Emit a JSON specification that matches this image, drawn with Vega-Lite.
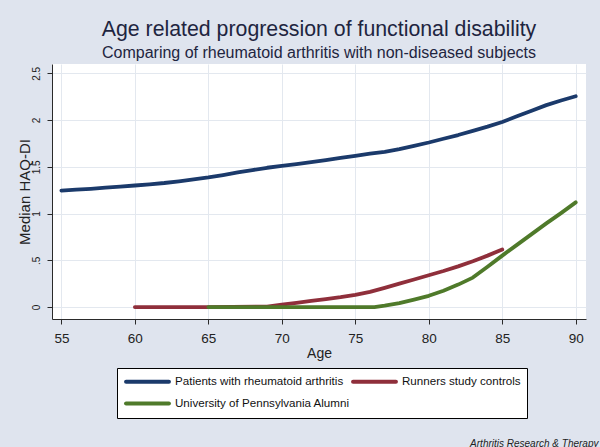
{
  "$schema": "https://vega.github.io/schema/vega-lite/v6.json",
  "width": 534,
  "height": 255,
  "autosize": {"type": "none"},
  "padding": {"left": 52, "top": 64, "right": 14, "bottom": 128},
  "background": "#dfe4ee",
  "title": {
    "text": "Age related progression of functional disability",
    "subtitle": "Comparing of rheumatoid arthritis with non-diseased subjects",
    "anchor": "middle",
    "frame": "group",
    "font": "Liberation Sans",
    "fontSize": 21.3,
    "fontWeight": "normal",
    "color": "#1e2540",
    "subtitleFont": "Liberation Sans",
    "subtitleFontSize": 16,
    "subtitleColor": "#1e2540",
    "subtitlePadding": 5,
    "offset": 3
  },
  "data": {
    "values": [
      {"group": "Patients with rheumatoid arthritis", "age": 55, "haq": 1.245},
      {"group": "Patients with rheumatoid arthritis", "age": 56, "haq": 1.255},
      {"group": "Patients with rheumatoid arthritis", "age": 57, "haq": 1.265},
      {"group": "Patients with rheumatoid arthritis", "age": 58, "haq": 1.277},
      {"group": "Patients with rheumatoid arthritis", "age": 59, "haq": 1.288},
      {"group": "Patients with rheumatoid arthritis", "age": 60, "haq": 1.3},
      {"group": "Patients with rheumatoid arthritis", "age": 61, "haq": 1.313},
      {"group": "Patients with rheumatoid arthritis", "age": 62, "haq": 1.327},
      {"group": "Patients with rheumatoid arthritis", "age": 63, "haq": 1.345},
      {"group": "Patients with rheumatoid arthritis", "age": 64, "haq": 1.365},
      {"group": "Patients with rheumatoid arthritis", "age": 65, "haq": 1.386},
      {"group": "Patients with rheumatoid arthritis", "age": 66, "haq": 1.412},
      {"group": "Patients with rheumatoid arthritis", "age": 67, "haq": 1.44},
      {"group": "Patients with rheumatoid arthritis", "age": 68, "haq": 1.465},
      {"group": "Patients with rheumatoid arthritis", "age": 69, "haq": 1.49},
      {"group": "Patients with rheumatoid arthritis", "age": 70, "haq": 1.51},
      {"group": "Patients with rheumatoid arthritis", "age": 71, "haq": 1.53},
      {"group": "Patients with rheumatoid arthritis", "age": 72, "haq": 1.55},
      {"group": "Patients with rheumatoid arthritis", "age": 73, "haq": 1.572},
      {"group": "Patients with rheumatoid arthritis", "age": 74, "haq": 1.595},
      {"group": "Patients with rheumatoid arthritis", "age": 75, "haq": 1.618},
      {"group": "Patients with rheumatoid arthritis", "age": 76, "haq": 1.64},
      {"group": "Patients with rheumatoid arthritis", "age": 77, "haq": 1.66},
      {"group": "Patients with rheumatoid arthritis", "age": 78, "haq": 1.69},
      {"group": "Patients with rheumatoid arthritis", "age": 79, "haq": 1.725},
      {"group": "Patients with rheumatoid arthritis", "age": 80, "haq": 1.76},
      {"group": "Patients with rheumatoid arthritis", "age": 81, "haq": 1.8},
      {"group": "Patients with rheumatoid arthritis", "age": 82, "haq": 1.84},
      {"group": "Patients with rheumatoid arthritis", "age": 83, "haq": 1.885},
      {"group": "Patients with rheumatoid arthritis", "age": 84, "haq": 1.93},
      {"group": "Patients with rheumatoid arthritis", "age": 85, "haq": 1.98},
      {"group": "Patients with rheumatoid arthritis", "age": 86, "haq": 2.04},
      {"group": "Patients with rheumatoid arthritis", "age": 87, "haq": 2.1},
      {"group": "Patients with rheumatoid arthritis", "age": 88, "haq": 2.16},
      {"group": "Patients with rheumatoid arthritis", "age": 89, "haq": 2.21},
      {"group": "Patients with rheumatoid arthritis", "age": 90, "haq": 2.255},
      {"group": "Runners study controls", "age": 60, "haq": 0},
      {"group": "Runners study controls", "age": 65, "haq": 0},
      {"group": "Runners study controls", "age": 69, "haq": 0.005},
      {"group": "Runners study controls", "age": 70, "haq": 0.025},
      {"group": "Runners study controls", "age": 71, "haq": 0.045},
      {"group": "Runners study controls", "age": 72, "haq": 0.065},
      {"group": "Runners study controls", "age": 73, "haq": 0.085},
      {"group": "Runners study controls", "age": 74, "haq": 0.105},
      {"group": "Runners study controls", "age": 75, "haq": 0.13},
      {"group": "Runners study controls", "age": 76, "haq": 0.162},
      {"group": "Runners study controls", "age": 77, "haq": 0.205},
      {"group": "Runners study controls", "age": 78, "haq": 0.25},
      {"group": "Runners study controls", "age": 79, "haq": 0.295},
      {"group": "Runners study controls", "age": 80, "haq": 0.34},
      {"group": "Runners study controls", "age": 81, "haq": 0.385},
      {"group": "Runners study controls", "age": 82, "haq": 0.435},
      {"group": "Runners study controls", "age": 83, "haq": 0.49},
      {"group": "Runners study controls", "age": 84, "haq": 0.55},
      {"group": "Runners study controls", "age": 85, "haq": 0.615},
      {"group": "University of Pennsylvania Alumni", "age": 65, "haq": 0},
      {"group": "University of Pennsylvania Alumni", "age": 70, "haq": 0},
      {"group": "University of Pennsylvania Alumni", "age": 76.3, "haq": 0},
      {"group": "University of Pennsylvania Alumni", "age": 77, "haq": 0.015},
      {"group": "University of Pennsylvania Alumni", "age": 78, "haq": 0.042},
      {"group": "University of Pennsylvania Alumni", "age": 79, "haq": 0.08},
      {"group": "University of Pennsylvania Alumni", "age": 80, "haq": 0.12},
      {"group": "University of Pennsylvania Alumni", "age": 81, "haq": 0.175},
      {"group": "University of Pennsylvania Alumni", "age": 82, "haq": 0.24},
      {"group": "University of Pennsylvania Alumni", "age": 83, "haq": 0.315},
      {"group": "University of Pennsylvania Alumni", "age": 84, "haq": 0.43},
      {"group": "University of Pennsylvania Alumni", "age": 85, "haq": 0.55},
      {"group": "University of Pennsylvania Alumni", "age": 86, "haq": 0.665},
      {"group": "University of Pennsylvania Alumni", "age": 87, "haq": 0.78},
      {"group": "University of Pennsylvania Alumni", "age": 88, "haq": 0.895},
      {"group": "University of Pennsylvania Alumni", "age": 89, "haq": 1.005},
      {"group": "University of Pennsylvania Alumni", "age": 90, "haq": 1.12}
    ]
  },
  "layer": [
    {
      "mark": {"type": "line", "strokeWidth": 3.8, "strokeCap": "round", "strokeJoin": "round"},
      "encoding": {
        "x": {
          "field": "age", "type": "quantitative",
          "scale": {"domain": [54.36, 90.7], "nice": false, "zero": false},
          "axis": {
            "values": [55, 60, 65, 70, 75, 80, 85, 90],
            "title": "Age",
            "labelFontSize": 13.5,
            "labelPadding": 7,
            "titleFontSize": 14,
            "titlePadding": 2
          }
        },
        "y": {
          "field": "haq", "type": "quantitative",
          "scale": {"domain": [-0.128, 2.6], "nice": false, "zero": false},
          "axis": {
            "values": [0, 0.5, 1, 1.5, 2, 2.5],
            "format": "~g",
            "labelExpr": "datum.value == 0.5 ? '.5' : datum.label",
            "labelAngle": 270,
            "labelAlign": "center",
            "labelBaseline": "alphabetic",
            "labelPadding": 8,
            "labelFontSize": 10,
            "title": "Median HAQ-DI",
            "titleFontSize": 15,
            "titleBaseline": "alphabetic",
            "titleX": -23
          }
        },
        "color": {
          "field": "group", "type": "nominal",
          "scale": {
            "domain": ["Patients with rheumatoid arthritis", "Runners study controls", "University of Pennsylvania Alumni"],
            "range": ["#1b3a6b", "#8f2f3b", "#4f7a2a"]
          },
          "legend": {
            "orient": "none",
            "legendX": 65,
            "legendY": 304,
            "direction": "horizontal",
            "columns": 2,
            "title": null,
            "symbolType": "M-4,0L4,0",
            "symbolSize": 115,
            "symbolStrokeWidth": 4,
            "labelFontSize": 11.6,
            "labelFont": "Liberation Sans",
            "labelColor": "#111111",
            "labelOffset": 20,
            "symbolOffset": 17,
            "strokeColor": "#000000",
            "fillColor": "#ffffff",
            "padding": 6,
            "rowPadding": 5,
            "columnPadding": -13,
            "labelLimit": 300,
            "encode": {"symbols": {"update": {"strokeCap": {"value": "round"}}}}
          }
        }
      }
    },
    {
      "mark": {"type": "point", "opacity": 0},
      "encoding": {
        "x": {"field": "age", "type": "quantitative"},
        "y": {
          "field": "haq", "type": "quantitative",
          "scale": {"domain": [-0.128, 2.6], "nice": false, "zero": false},
          "axis": {
            "orient": "right",
            "labels": false,
            "ticks": false,
            "domain": false,
            "grid": false,
            "title": "Arthritis Research & Therapy",
            "titleAngle": 0,
            "titleFontStyle": "italic",
            "titleFontWeight": "normal",
            "titleFontSize": 10,
            "titleColor": "#222222",
            "titleAlign": "right",
            "titleBaseline": "alphabetic",
            "titleX": 12,
            "titleY": 382
          }
        }
      }
    }
  ],
  "resolve": {"scale": {"y": "independent"}, "axis": {"y": "independent"}},
  "config": {
    "view": {"stroke": null, "fill": "#ffffff"},
    "font": "Liberation Sans",
    "axis": {
      "labelFont": "Liberation Sans",
      "titleFont": "Liberation Sans",
      "titleFontWeight": "normal",
      "labelColor": "#222222",
      "titleColor": "#222222",
      "domainColor": "#2a2a2a",
      "tickColor": "#2a2a2a",
      "tickSize": 5,
      "grid": true,
      "gridColor": "#e3e8ef",
      "gridWidth": 1
    }
  }
}
